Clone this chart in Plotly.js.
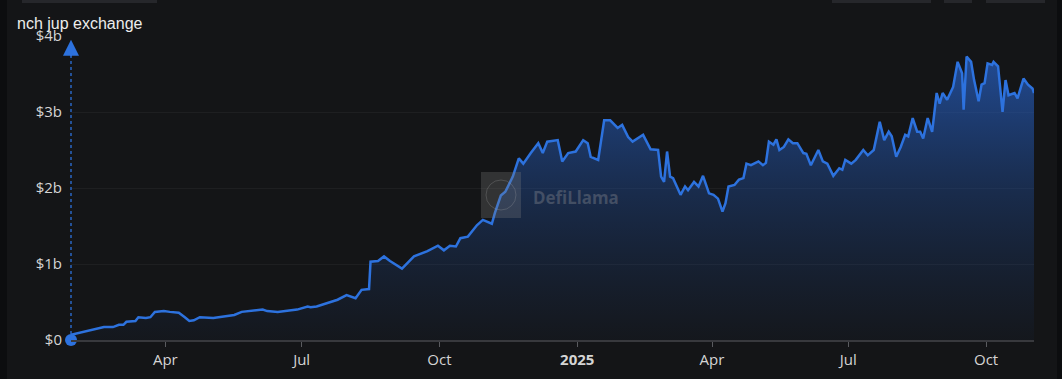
<!DOCTYPE html>
<html>
<head>
<meta charset="utf-8">
<script src="https://cdn.plot.ly/plotly-3.0.1.min.js"></script>
<style>
  html, body { margin: 0; padding: 0; background: #141517; }
  #chart { width: 1062px; height: 379px; }
</style>
</head>
<body>
<div id="chart"></div>
<script>
// ---- Data (TVL in $ billions) ----
const dates = [
  '2024-01-29','2024-02-13','2024-02-20','2024-02-26','2024-03-01','2024-03-04','2024-03-06','2024-03-12',
  '2024-03-14','2024-03-19','2024-03-22','2024-03-25','2024-03-31','2024-04-04','2024-04-10','2024-04-14',
  '2024-04-17','2024-04-20','2024-04-24','2024-05-03','2024-05-10','2024-05-17','2024-05-22','2024-05-30',
  '2024-06-05','2024-06-08','2024-06-15','2024-06-24','2024-06-28','2024-07-05','2024-07-07','2024-07-11',
  '2024-07-18','2024-07-25','2024-07-31','2024-08-06','2024-08-10','2024-08-15','2024-08-16','2024-08-21',
  '2024-08-25','2024-08-29','2024-09-06','2024-09-14','2024-09-23','2024-09-30','2024-10-04','2024-10-08',
  '2024-10-12','2024-10-15','2024-10-20','2024-10-26','2024-10-30','2024-11-05','2024-11-07','2024-11-11',
  '2024-11-14','2024-11-19','2024-11-23','2024-11-26','2024-12-01','2024-12-06','2024-12-09','2024-12-12',
  '2024-12-19','2024-12-22','2024-12-26','2024-12-31','2025-01-05','2025-01-08','2025-01-10','2025-01-15',
  '2025-01-19','2025-01-23','2025-01-28','2025-01-31','2025-02-04','2025-02-07','2025-02-14','2025-02-19',
  '2025-02-24','2025-02-26','2025-02-28','2025-03-02','2025-03-04','2025-03-06','2025-03-11','2025-03-14',
  '2025-03-16','2025-03-20','2025-03-23','2025-03-26','2025-03-30','2025-04-02','2025-04-05','2025-04-08',
  '2025-04-10','2025-04-12','2025-04-16','2025-04-19','2025-04-22','2025-04-24','2025-04-27','2025-05-02',
  '2025-05-05','2025-05-07','2025-05-09','2025-05-12','2025-05-14','2025-05-16','2025-05-19','2025-05-22',
  '2025-05-25','2025-05-28','2025-06-01','2025-06-03','2025-06-06','2025-06-11','2025-06-14','2025-06-17',
  '2025-06-21','2025-06-25','2025-06-27','2025-06-29','2025-07-03','2025-07-06','2025-07-11','2025-07-14',
  '2025-07-18','2025-07-22','2025-07-25','2025-07-28','2025-07-30','2025-08-02','2025-08-05','2025-08-08',
  '2025-08-10','2025-08-13','2025-08-16','2025-08-18','2025-08-20','2025-08-23','2025-08-26','2025-08-29',
  '2025-08-31','2025-09-02','2025-09-05','2025-09-09','2025-09-12','2025-09-15','2025-09-16','2025-09-18',
  '2025-09-21','2025-09-23','2025-09-26','2025-09-28','2025-09-30','2025-10-02','2025-10-05','2025-10-06',
  '2025-10-09','2025-10-12','2025-10-14','2025-10-16','2025-10-20','2025-10-22','2025-10-24','2025-10-26',
  '2025-10-29','2025-11-01','2025-11-02'
];
const tvl = [
  0.07,0.14,0.17,0.17,0.20,0.20,0.24,0.25,
  0.30,0.29,0.30,0.37,0.38,0.37,0.36,0.30,
  0.25,0.26,0.30,0.29,0.31,0.33,0.37,0.39,
  0.40,0.38,0.37,0.39,0.40,0.44,0.43,0.44,
  0.48,0.53,0.59,0.55,0.66,0.67,1.03,1.04,
  1.10,1.04,0.94,1.10,1.17,1.24,1.18,1.24,
  1.23,1.34,1.36,1.51,1.58,1.53,1.67,1.90,
  1.95,2.15,2.39,2.32,2.46,2.59,2.46,2.61,
  2.63,2.35,2.46,2.48,2.63,2.59,2.41,2.37,
  2.89,2.89,2.79,2.83,2.67,2.61,2.70,2.51,
  2.50,2.15,2.08,2.48,2.15,2.13,1.91,2.02,
  1.97,2.08,2.02,2.16,1.93,1.91,1.86,1.69,
  1.80,2.02,2.04,2.11,2.13,2.32,2.30,2.35,
  2.30,2.33,2.61,2.57,2.64,2.50,2.54,2.64,
  2.59,2.59,2.46,2.45,2.30,2.50,2.35,2.32,
  2.16,2.26,2.24,2.37,2.32,2.37,2.50,2.43,
  2.50,2.87,2.63,2.74,2.68,2.41,2.54,2.70,
  2.68,2.92,2.74,2.74,2.65,2.92,2.74,3.25,
  3.11,3.25,3.16,3.33,3.66,3.51,3.03,3.73,
  3.66,3.42,3.14,3.36,3.38,3.64,3.62,3.66,
  3.60,3.00,3.42,3.22,3.25,3.18,3.31,3.44,
  3.36,3.31,3.25
];
const xTickVals = ['2024-04-01','2024-07-01','2024-10-01','2025-01-01','2025-04-01','2025-07-01','2025-10-01'];
const xTickText = ['Apr','Jul','Oct','<b>2025</b>','Apr','Jul','Oct'];
const yTickVals = [0,1,2,3,4];
const yTickText = ['$0','$1b','$2b','$3b','$4b'];
const chartTitle = 'nch jup exchange';
const watermark = 'DefiLlama';

const blue = '#2d72de';

const traces = [
  {
    type: 'scatter', mode: 'lines', x: dates, y: tvl,
    line: { color: blue, width: 2.5 },
    fill: 'tozeroy',
    fillgradient: {
      type: 'vertical', start: 0, stop: 3.8,
      colorscale: [[0, 'rgba(30,70,140,0.05)'], [0.5, 'rgba(34,84,170,0.35)'], [1, 'rgba(40,100,205,0.7)']]
    },
    hoverinfo: 'skip'
  },
  {
    type: 'scatter', mode: 'markers', x: [dates[0]], y: [0],
    marker: { color: blue, size: 12 }, cliponaxis: false, hoverinfo: 'skip'
  }
];

const W = 963, H = 304; // plot area size in px (for paper-coord decorations)
const px = v => (v - 71) / W;
const py = v => (340 - v) / H;

const tickFont = { family: 'Open Sans, Noto Sans, sans-serif', size: 15, color: '#d4d4d4' };

const layout = {
  width: 1062, height: 379,
  margin: { l: 71, r: 28, t: 36, b: 39 },
  paper_bgcolor: '#141517', plot_bgcolor: '#141517',
  showlegend: false,
  title: {
    text: chartTitle, xref: 'container', yref: 'container',
    x: 17 / 1062, xanchor: 'left', y: 1 - 23 / 379, yanchor: 'middle',
    font: { family: 'Liberation Sans, Arial, sans-serif', size: 16, color: '#ededed' }
  },
  xaxis: {
    type: 'date', range: [dates[0], dates[dates.length - 1]], autorange: false,
    tickvals: xTickVals, ticktext: xTickText,
    showgrid: false, zeroline: false,
    showline: true, linecolor: '#38393d', linewidth: 2,
    ticks: 'outside', ticklen: 5, tickwidth: 1, tickcolor: '#5a5b5f',
    tickfont: tickFont
  },
  yaxis: {
    range: [0, 4], autorange: false,
    tickvals: yTickVals, ticktext: yTickText,
    showgrid: true, gridcolor: 'rgba(255,255,255,0.045)', gridwidth: 1,
    zeroline: false, showline: false, ticks: '',
    ticklabelstandoff: 8,
    tickfont: tickFont
  },
  shapes: [
    { type: 'line', xref: 'paper', yref: 'paper', x0: 0, x1: 0, y0: 0, y1: py(52),
      line: { color: blue, width: 1.3, dash: '3px,3px' }, layer: 'above' },
    // watermark logo box
    { type: 'rect', xref: 'paper', yref: 'paper', x0: px(481), x1: px(521), y0: py(218), y1: py(172),
      fillcolor: 'rgba(130,130,130,0.28)', line: { width: 0 }, layer: 'above' },
    { type: 'circle', xref: 'paper', yref: 'paper', x0: px(486), x1: px(516), y0: py(210), y1: py(180),
      fillcolor: 'rgba(0,0,0,0)', line: { width: 1, color: 'rgba(170,170,170,0.25)' }, layer: 'above' },
    // partial UI elements at the top edge
    { type: 'rect', xref: 'paper', yref: 'paper', x0: px(22), x1: px(157), y0: py(3), y1: py(0),
      fillcolor: '#26272b', line: { width: 0 } },
    { type: 'rect', xref: 'paper', yref: 'paper', x0: px(832), x1: px(931), y0: py(3), y1: py(0),
      fillcolor: '#26272b', line: { width: 0 } },
    { type: 'rect', xref: 'paper', yref: 'paper', x0: px(944), x1: px(972), y0: py(3), y1: py(0),
      fillcolor: '#26272b', line: { width: 0 } },
    { type: 'rect', xref: 'paper', yref: 'paper', x0: px(986), x1: px(1045), y0: py(3), y1: py(0),
      fillcolor: '#26272b', line: { width: 0 } },
    // side strips
    { type: 'rect', xref: 'paper', yref: 'paper', x0: px(0), x1: px(7), y0: py(379), y1: py(0),
      fillcolor: '#0c0d0f', line: { width: 0 } },
    { type: 'rect', xref: 'paper', yref: 'paper', x0: px(1057), x1: px(1062), y0: py(379), y1: py(0),
      fillcolor: '#0c0d0f', line: { width: 0 } }
  ],
  annotations: [
    { x: dates[0], y: 3.95, xref: 'x', yref: 'y', text: '', showarrow: true,
      ax: 0, ay: 18, arrowhead: 2, arrowsize: 2, arrowwidth: 1.6, arrowcolor: blue },
    { xref: 'paper', yref: 'paper', x: px(531), y: py(197), xanchor: 'left', yanchor: 'middle',
      text: '<b>' + watermark + '</b>', showarrow: false,
      font: { family: 'Noto Sans, sans-serif', size: 17, color: 'rgba(150,150,155,0.34)' } }
  ]
};

Plotly.newPlot('chart', traces, layout, { staticPlot: true, displayModeBar: false });
</script>
</body>
</html>
